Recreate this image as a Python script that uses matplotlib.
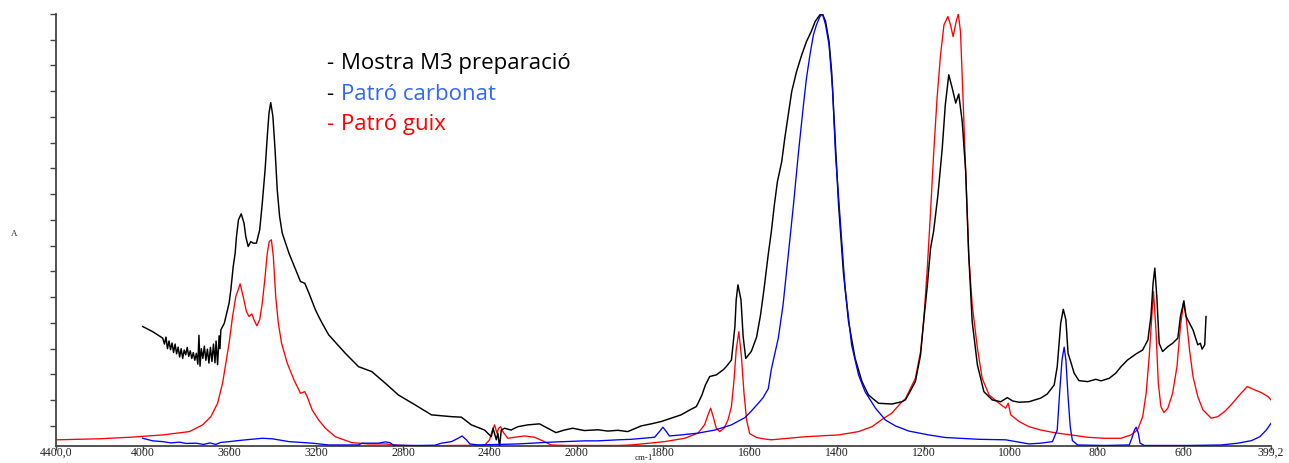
import numpy as np
import matplotlib
matplotlib.use("Agg")
import matplotlib.pyplot as plt

# ---- FTIR spectra (wavenumber in cm-1, absorbance in arbitrary units) ----
muestra_wn = [4000, 3954, 3908, 3900, 3893, 3886, 3879, 3872, 3865, 3858, 3851, 3844, 3837,
              3830, 3823, 3816, 3809, 3802, 3795, 3788, 3781, 3774, 3767, 3760, 3753, 3746,
              3741, 3736, 3730, 3723, 3716, 3709, 3702, 3695, 3688, 3681, 3674, 3667, 3662,
              3655, 3648, 3644, 3640, 3624, 3609, 3602, 3594, 3583, 3574, 3568, 3559, 3546,
              3533, 3525, 3514, 3502, 3491, 3476, 3461, 3449, 3436, 3426, 3418, 3410, 3400,
              3390, 3380, 3369, 3357, 3326, 3295, 3273, 3253, 3234, 3204, 3189, 3173, 3143,
              3128, 3066, 3005, 2944, 2882, 2821, 2745, 2669, 2577, 2531, 2485, 2424, 2393,
              2385, 2370, 2363, 2355, 2347, 2332, 2302, 2271, 2225, 2171, 2133, 2095, 2056,
              2018, 1982, 1951, 1928, 1905, 1882, 1851, 1828, 1805, 1782, 1759, 1739, 1724,
              1720, 1711, 1703, 1693, 1678, 1662, 1655, 1643, 1635, 1632, 1628, 1621, 1616,
              1610, 1597, 1585, 1576, 1568, 1558, 1551, 1544, 1537, 1527, 1520, 1512, 1504,
              1493, 1481, 1470, 1459, 1450, 1439, 1433, 1426, 1418, 1412, 1404, 1396, 1385,
              1373, 1358, 1342, 1327, 1304, 1273, 1250, 1242, 1234, 1219, 1207, 1200, 1192,
              1184, 1177, 1167, 1157, 1150, 1142, 1134, 1126, 1119, 1111, 1103, 1096, 1088,
              1076, 1061, 1042, 1022, 1007, 995, 980, 957, 930, 915, 899, 892, 884, 878, 872,
              867, 861, 853, 842, 822, 803, 791, 772, 757, 745, 730, 710, 695, 683, 676, 671,
              667, 662, 657, 649, 637, 626, 614, 608, 600, 595, 587, 579, 574, 568, 562, 558,
              552, 549]
muestra_abs = [0.386, 0.366, 0.341, 0.318, 0.345, 0.300, 0.330, 0.296, 0.322, 0.285, 0.318,
               0.280, 0.306, 0.268, 0.300, 0.262, 0.295, 0.276, 0.305, 0.270, 0.292, 0.262,
               0.285, 0.255, 0.282, 0.240, 0.352, 0.232, 0.300, 0.262, 0.310, 0.255, 0.298,
               0.244, 0.305, 0.250, 0.318, 0.245, 0.330, 0.238, 0.350, 0.300, 0.373, 0.399,
               0.451, 0.477, 0.528, 0.619, 0.671, 0.735, 0.800, 0.824, 0.787, 0.735, 0.697,
               0.716, 0.710, 0.710, 0.761, 0.865, 0.995, 1.124, 1.215, 1.256, 1.202, 1.072,
               0.917, 0.813, 0.749, 0.671, 0.606, 0.561, 0.554, 0.516, 0.451, 0.425, 0.399,
               0.354, 0.340, 0.282, 0.230, 0.211, 0.166, 0.120, 0.082, 0.043, 0.036, 0.034,
               0.004, -0.016, -0.042, -0.009, -0.054, -0.028, -0.080, -0.016, -0.009, -0.016,
               -0.003, 0.004, 0.008, -0.009, -0.026, -0.016, -0.009, -0.018, -0.015, -0.020,
               -0.017, -0.022, 0.000, 0.008, 0.017, 0.030, 0.043, 0.062, 0.075, 0.088, 0.120,
               0.159, 0.192, 0.198, 0.218, 0.230, 0.256, 0.386, 0.490, 0.548, 0.490, 0.347,
               0.262, 0.290, 0.345, 0.430, 0.530, 0.668, 0.755, 0.859, 0.949, 1.027, 1.118,
               1.208, 1.299, 1.376, 1.441, 1.493, 1.532, 1.571, 1.597, 1.600, 1.571, 1.493,
               1.376, 1.118, 0.859, 0.599, 0.405, 0.263, 0.172, 0.120, 0.088, 0.085, 0.094,
               0.101, 0.125, 0.172, 0.276, 0.405, 0.535, 0.690, 0.755, 0.897, 1.079, 1.247,
               1.364, 1.312, 1.254, 1.289, 1.182, 0.988, 0.664, 0.405, 0.237, 0.133, 0.101,
               0.094, 0.110, 0.097, 0.092, 0.094, 0.108, 0.124, 0.159, 0.230, 0.399, 0.453,
               0.412, 0.282, 0.250, 0.205, 0.176, 0.172, 0.181, 0.175, 0.185, 0.205, 0.230,
               0.256, 0.280, 0.295, 0.334, 0.425, 0.554, 0.613, 0.490, 0.321, 0.289, 0.308,
               0.321, 0.341, 0.425, 0.486, 0.425, 0.399, 0.373, 0.347, 0.315, 0.321, 0.298,
               0.315, 0.425]

guix_wn = [4400, 4200, 4060, 3908, 3785, 3724, 3686, 3655, 3632, 3617, 3602, 3586, 3571,
           3551, 3537, 3522, 3510, 3497, 3487, 3474, 3461, 3449, 3436, 3426, 3417, 3407,
           3398, 3387, 3375, 3360, 3334, 3303, 3273, 3253, 3242, 3219, 3189, 3158, 3112,
           3036, 2959, 2882, 2821, 2730, 2577, 2424, 2401, 2390, 2378, 2367, 2359, 2350,
           2340, 2317, 2286, 2240, 2194, 2148, 2118, 2041, 1905, 1874, 1797, 1751, 1720,
           1705, 1697, 1691, 1685, 1678, 1670, 1660, 1651, 1643, 1637, 1632, 1626, 1620,
           1614, 1608, 1601, 1585, 1566, 1551, 1473, 1396, 1350, 1319, 1296, 1273, 1250,
           1242, 1219, 1207, 1200, 1192, 1184, 1177, 1169, 1161, 1153, 1144, 1138, 1132,
           1125, 1120, 1115, 1110, 1103, 1096, 1088, 1076, 1065, 1049, 1026, 1011, 1005,
           999, 980, 957, 930, 899, 861, 822, 784, 745, 722, 707, 695, 687, 680, 674, 670,
           664, 659, 653, 646, 637, 626, 616, 608, 601, 595, 587, 579, 568, 556, 537, 522,
           506, 491, 472, 454, 437, 421, 406, 399.2]
guix_abs = [-0.054, -0.050, -0.044, -0.035, -0.022, 0.004, 0.036, 0.088, 0.166, 0.244, 0.321,
            0.425, 0.502, 0.552, 0.502, 0.444, 0.425, 0.435, 0.412, 0.389, 0.412, 0.477,
            0.580, 0.671, 0.716, 0.723, 0.658, 0.502, 0.399, 0.321, 0.244, 0.179, 0.127,
            0.133, 0.114, 0.062, 0.023, -0.009, -0.042, -0.065, -0.070, -0.070, -0.075,
            -0.078, -0.076, -0.075, -0.054, -0.022, 0.004, -0.028, -0.009, -0.003, -0.022,
            -0.048, -0.044, -0.039, -0.044, -0.061, -0.074, -0.076, -0.076, -0.074, -0.061,
            -0.048, -0.028, 0.004, 0.043, 0.069, 0.036, -0.009, -0.022, -0.009, 0.023, 0.075,
            0.179, 0.295, 0.366, 0.269, 0.127, 0.023, -0.030, -0.045, -0.051, -0.054, -0.042,
            -0.035, -0.022, -0.003, 0.025, 0.050, 0.094, 0.105, 0.185, 0.289, 0.405, 0.599,
            0.833, 1.053, 1.273, 1.441, 1.558, 1.590, 1.558, 1.512, 1.571, 1.600, 1.532,
            1.312, 0.988, 0.664, 0.470, 0.302, 0.185, 0.120, 0.088, 0.069, 0.088, 0.043,
            0.017, -0.003, -0.016, -0.026, -0.035, -0.044, -0.048, -0.048, -0.035, -0.016,
            0.036, 0.127, 0.269, 0.425, 0.522, 0.360, 0.166, 0.075, 0.052, 0.069, 0.127,
            0.230, 0.386, 0.477, 0.425, 0.295, 0.192, 0.114, 0.062, 0.030, 0.036, 0.056,
            0.082, 0.120, 0.153, 0.140, 0.129, 0.114, 0.101]

carbonat_wn = [4000, 3954, 3908, 3870, 3831, 3800, 3754, 3720, 3690, 3663, 3640, 3602, 3560,
               3525, 3449, 3403, 3326, 3219, 3143, 3005, 2990, 2913, 2882, 2860, 2844, 2730,
               2653, 2623, 2577, 2546, 2528, 2508, 2492, 2454, 2271, 2118, 1982, 1951, 1905,
               1874, 1820, 1809, 1801, 1793, 1786, 1759, 1720, 1681, 1643, 1628, 1612, 1597,
               1580, 1570, 1558, 1551, 1535, 1524, 1512, 1500, 1489, 1477, 1470, 1462, 1454,
               1447, 1439, 1433, 1426, 1418, 1410, 1403, 1392, 1381, 1366, 1350, 1335, 1311,
               1288, 1265, 1234, 1188, 1150, 1072, 1011, 980, 957, 930, 903, 892, 886, 881,
               876, 872, 867, 862, 857, 845, 784, 726, 720, 714, 710, 705, 701, 691, 591,
               514, 475, 444, 425, 410, 399.2]
carbonat_abs = [-0.048, -0.058, -0.061, -0.066, -0.063, -0.068, -0.067, -0.072, -0.066,
                -0.072, -0.064, -0.061, -0.057, -0.054, -0.048, -0.050, -0.061, -0.067,
                -0.074, -0.074, -0.067, -0.067, -0.062, -0.065, -0.075, -0.076, -0.075,
                -0.067, -0.061, -0.048, -0.039, -0.054, -0.070, -0.074, -0.070, -0.063,
                -0.058, -0.058, -0.054, -0.052, -0.044, -0.022, -0.005, -0.022, -0.039,
                -0.035, -0.028, -0.016, 0.004, 0.018, 0.032, 0.058, 0.090, 0.110, 0.145,
                0.220, 0.341, 0.470, 0.664, 0.859, 1.053, 1.247, 1.351, 1.441, 1.519, 1.558,
                1.590, 1.600, 1.558, 1.480, 1.312, 1.053, 0.794, 0.535, 0.315, 0.198, 0.133,
                0.069, 0.023, 0.000, -0.020, -0.035, -0.045, -0.052, -0.054, -0.063, -0.070,
                -0.067, -0.061, -0.016, 0.140, 0.256, 0.306, 0.256, 0.114, -0.003, -0.057,
                -0.074, -0.076, -0.074, -0.048, -0.016, -0.005, -0.028, -0.067, -0.076,
                -0.076, -0.074, -0.067, -0.057, -0.042, -0.016, 0.010]

xtick_values = [4400, 4000, 3600, 3200, 2800, 2400, 2000, 1800, 1600, 1400, 1200, 1000,
                800, 600, 399.2]
xtick_labels = ["4400,0", "4000", "3600", "3200", "2800", "2400", "2000", "1800", "1600",
                "1400", "1200", "1000", "800", "600", "399,2"]
ytick_values = np.round(np.arange(0.0, 1.61, 0.1), 2)

legend_names = ["Mostra M3 preparació", "Patró carbonat", "Patró guix"]
legend_colors = ["#000000", "#3366ff", "#ff0000"]
dash_colors = ["#000000", "#000000", "#ff0000"]


# Spectrometer-style axis: the region below 2000 cm-1 is expanded two-fold.
def forward(w):
    w = np.asarray(w, dtype=float)
    return np.where(w >= 2000, w, 2 * w - 2000)


def inverse(t):
    t = np.asarray(t, dtype=float)
    return np.where(t >= 2000, t, (t + 2000) / 2)


fig = plt.figure(figsize=(12.89, 4.63), dpi=100)
ax = fig.add_axes([56 / 1289, 17 / 463, 1215 / 1289, 432 / 463])

ax.plot(muestra_wn, muestra_abs, color="#000000", lw=1.05, zorder=3)
ax.plot(guix_wn, guix_abs, color="#ff0000", lw=0.95, zorder=2)
ax.plot(carbonat_wn, carbonat_abs, color="#0000ff", lw=0.95, zorder=4)

ax.set_xscale("function", functions=(forward, inverse))
ax.set_xlim(4400, 399.2)
ax.set_ylim(-0.078, 1.6)

ax.set_xticks(xtick_values)
ax.set_xticklabels(xtick_labels, fontfamily="Liberation Serif", fontsize=8.5, color="#222222")
ax.xaxis.set_minor_locator(matplotlib.ticker.NullLocator())
ax.set_yticks(ytick_values)
ax.tick_params(axis="y", labelleft=False, direction="out", length=4, width=1.0, color="#444444")
ax.tick_params(axis="x", direction="out", length=3, width=1.0, color="#444444", pad=-2.5)

for side in ("top", "right"):
    ax.spines[side].set_visible(False)
for side in ("left", "bottom"):
    ax.spines[side].set_color("#444444")
    ax.spines[side].set_linewidth(1.3)

# x-axis unit, tucked under the axis next to the 1800 label
fig.text(644 / 1289, 1 / 463, "cm-1", ha="center", va="bottom",
         fontfamily="Liberation Serif", fontsize=6.5, color="#222222")
fig.text(14 / 1289, 1 - 234 / 463, "A", ha="center", va="center",
         fontfamily="Liberation Serif", fontsize=6.5, color="#333333")

baselines = [68.5, 100, 130.5]
for name, col, dcol, yb in zip(legend_names, legend_colors, dash_colors, baselines):
    fig.text(326 / 1289, 1 - yb / 463, "-", color=dcol, fontfamily="Open Sans",
             fontsize=16, va="baseline", ha="left")
    fig.text(341 / 1289, 1 - yb / 463, name, color=col, fontfamily="Open Sans",
             fontsize=16, va="baseline", ha="left")

fig.savefig("out.png", dpi=100)
